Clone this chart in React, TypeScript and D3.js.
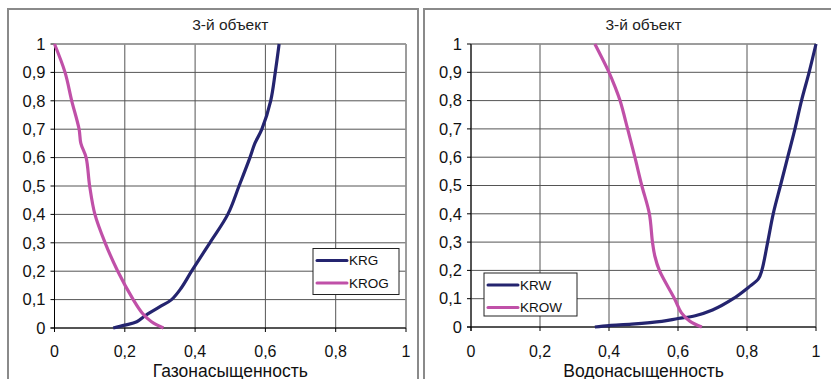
import React from 'react';
import * as d3 from 'd3';

// values
const title = '3-й объект';

const krgX = [0.167, 0.2, 0.234, 0.26, 0.3, 0.333, 0.36, 0.39, 0.442, 0.493, 0.525, 0.556, 0.57, 0.59, 0.615, 0.628, 0.639];
const krgY = [0, 0.01, 0.022, 0.045, 0.075, 0.1, 0.14, 0.2, 0.3, 0.4, 0.5, 0.6, 0.65, 0.7, 0.8, 0.9, 1.0];

const krogX = [0, 0.03, 0.049, 0.07, 0.075, 0.09, 0.1, 0.115, 0.144, 0.18, 0.224, 0.25, 0.276, 0.31];
const krogY = [1, 0.9, 0.8, 0.7, 0.65, 0.6, 0.5, 0.4, 0.3, 0.2, 0.1, 0.052, 0.022, 0];

const krwX = [0.359, 0.4, 0.466, 0.553, 0.6, 0.65, 0.7, 0.76, 0.804, 0.833, 0.843, 0.86, 0.876, 0.897, 0.918, 0.939, 0.958, 0.98, 1.0];
const krwY = [0, 0.005, 0.01, 0.02, 0.03, 0.04, 0.06, 0.1, 0.14, 0.17, 0.2, 0.3, 0.4, 0.5, 0.6, 0.7, 0.8, 0.9, 1.0];

const krowX = [0.359, 0.4, 0.417, 0.432, 0.454, 0.475, 0.495, 0.517, 0.526, 0.533, 0.546, 0.59, 0.61, 0.635, 0.669];
const krowY = [1, 0.9, 0.85, 0.8, 0.7, 0.6, 0.5, 0.4, 0.3, 0.25, 0.2, 0.1, 0.05, 0.02, 0];

const xTicks = [0, 0.2, 0.4, 0.6, 0.8, 1];
const yTicks = [0, 0.1, 0.2, 0.3, 0.4, 0.5, 0.6, 0.7, 0.8, 0.9, 1];

const navy = '#24246f';
const pink = '#c050a8';
const font = 'Liberation Sans, Arial, sans-serif';

const ruFormat = d3.formatLocale({ decimal: ',', thousands: ' ', grouping: [3], currency: ['', ''] }).format('~g');

interface ISeries {
  name: string;
  xs: number[];
  ys: number[];
  color: string;
}

interface IPanelProps {
  frame: { x: number; w: number };
  plot: { left: number; right: number; top: number; bottom: number };
  xTitle: string;
  series: ISeries[];
  legend: { x: number; y: number; w: number; h: number };
}

const Panel: React.FC<IPanelProps> = ({ frame, plot, xTitle, series, legend }) => {
  const x = d3.scaleLinear().domain([0, 1]).range([plot.left, plot.right]);
  const y = d3.scaleLinear().domain([0, 1]).range([plot.bottom, plot.top]);
  const line = d3
    .line<[number, number]>()
    .x((d) => x(d[0]))
    .y((d) => y(d[1]))
    .curve(d3.curveCatmullRom.alpha(0.5));
  const cx = (plot.left + plot.right) / 2;

  return (
    <g fontFamily={font}>
      <rect x={frame.x} y={9} width={frame.w} height={400} fill="white" stroke="#8a8a8a" strokeWidth={2} />
      <text x={cx} y={30} textAnchor="middle" fontSize={15.5} fill="#222">
        {title}
      </text>
      {yTicks.map((t) => (
        <line key={'h' + t} x1={plot.left} x2={plot.right} y1={y(t)} y2={y(t)} stroke="#555" strokeWidth={1} />
      ))}
      {xTicks.map((t) => (
        <line key={'v' + t} x1={x(t)} x2={x(t)} y1={plot.top} y2={plot.bottom} stroke="#555" strokeWidth={1} />
      ))}
      <line x1={plot.left} x2={plot.right} y1={plot.top} y2={plot.top} stroke="#999" strokeWidth={1.5} />
      <line x1={plot.right} x2={plot.right} y1={plot.top} y2={plot.bottom} stroke="#999" strokeWidth={1.5} />
      <line x1={plot.left} x2={plot.left} y1={plot.top} y2={plot.bottom + 4} stroke="#000" strokeWidth={1} />
      <line x1={plot.left - 4} x2={plot.right} y1={plot.bottom} y2={plot.bottom} stroke="#000" strokeWidth={1} />
      {yTicks.map((t) => (
        <g key={'yt' + t}>
          <line x1={plot.left - 4} x2={plot.left} y1={y(t)} y2={y(t)} stroke="#000" />
          <text x={plot.left - 9} y={y(t)} dy="0.35em" textAnchor="end" fontSize={16.5} fill="#111">
            {ruFormat(t)}
          </text>
        </g>
      ))}
      {xTicks.map((t) => (
        <g key={'xt' + t}>
          <line x1={x(t)} x2={x(t)} y1={plot.bottom} y2={plot.bottom + 4} stroke="#000" />
          <text x={x(t)} y={357} textAnchor="middle" fontSize={16} fill="#111">
            {ruFormat(t)}
          </text>
        </g>
      ))}
      <text x={cx} y={376.5} textAnchor="middle" fontSize={17.5} fill="#111">
        {xTitle}
      </text>
      {series.map((s) => (
        <path
          key={s.name}
          d={line(s.xs.map((v, i) => [v, s.ys[i]]))!}
          fill="none"
          stroke={s.color}
          strokeWidth={3.2}
          strokeLinejoin="round"
        />
      ))}
      <rect x={legend.x} y={legend.y} width={legend.w} height={legend.h} fill="white" stroke="#222" strokeWidth={1} />
      {series.map((s, i) => {
        const ly = legend.y + 12 + i * 22.5;
        return (
          <g key={'lg' + s.name}>
            <line x1={legend.x + 4} x2={legend.x + 34} y1={ly} y2={ly} stroke={s.color} strokeWidth={3} strokeLinecap="round" />
            <text x={legend.x + 36} y={ly} dy="0.36em" fontSize={13.5} fill="#111">
              {s.name}
            </text>
          </g>
        );
      })}
    </g>
  );
};

const App: React.FC = () => (
  <svg width={831} height={379} style={{ position: 'absolute', left: 0, top: 0, background: 'white' }}>
    <Panel
      frame={{ x: 8, w: 410 }}
      plot={{ left: 54.5, right: 406, top: 44, bottom: 328 }}
      xTitle="Газонасыщенность"
      series={[
        { name: 'KRG', xs: krgX, ys: krgY, color: navy },
        { name: 'KROG', xs: krogX, ys: krogY, color: pink },
      ]}
      legend={{ x: 313, y: 248.5, w: 86, h: 46 }}
    />
    <Panel
      frame={{ x: 424, w: 420 }}
      plot={{ left: 471, right: 816, top: 44, bottom: 327 }}
      xTitle="Водонасыщенность"
      series={[
        { name: 'KRW', xs: krwX, ys: krwY, color: navy },
        { name: 'KROW', xs: krowX, ys: krowY, color: pink },
      ]}
      legend={{ x: 484, y: 273, w: 93, h: 43 }}
    />
  </svg>
);

export default App;
